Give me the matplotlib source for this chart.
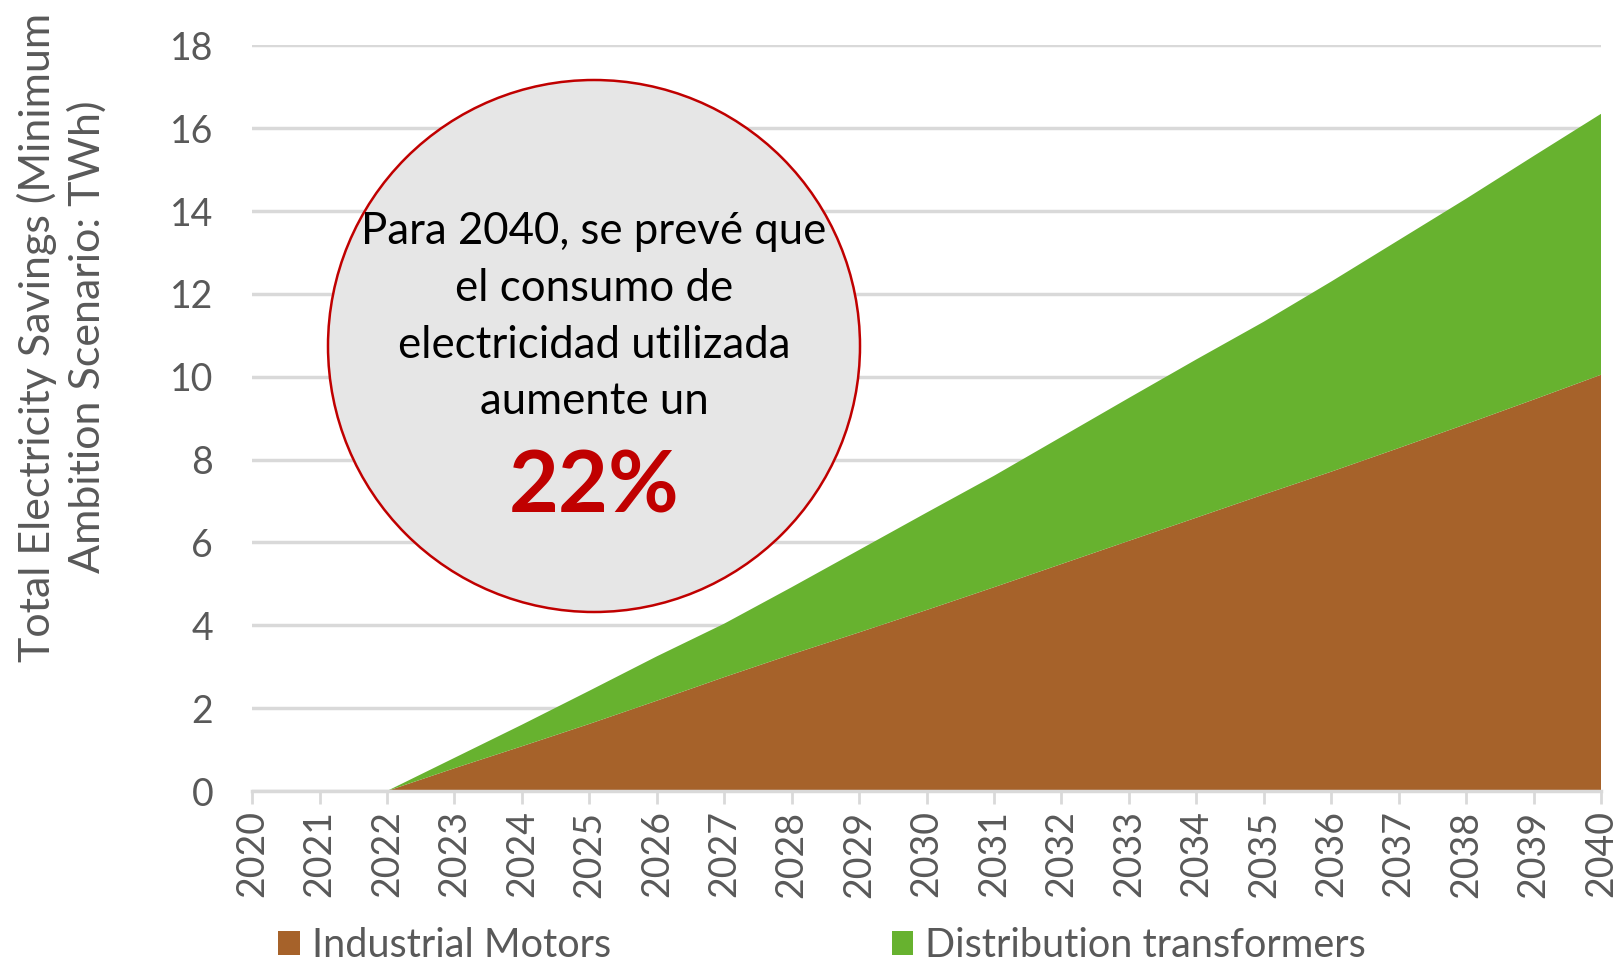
import numpy as np
import matplotlib
matplotlib.use("Agg")
import matplotlib.pyplot as plt
from matplotlib.patches import Circle, Patch

years = list(range(2020, 2041))
# (TWh)
industrial_motors = [0, 0, 0, 0.55, 1.08, 1.62, 2.18, 2.75, 3.30, 3.83, 4.37,
                     4.92, 5.48, 6.04, 6.60, 7.16, 7.71, 8.28, 8.86, 9.45, 10.05]
total_savings = [0, 0, 0, 0.80, 1.60, 2.42, 3.25, 4.04, 4.92, 5.82, 6.72,
                 7.61, 8.55, 9.49, 10.42, 11.33, 12.30, 13.30, 14.30, 15.33, 16.35]
distribution_transformers = [t - m for t, m in zip(total_savings, industrial_motors)]
series_names = ["Industrial Motors", "Distribution transformers"]
colors = ["#a6622a", "#67b22f"]

callout_lines = ["Para 2040, se prevé que", "el consumo de",
                 "electricidad utilizada", "aumente un"]
callout_value = "22%"

plt.rcParams['font.family'] = ['Lato', 'DejaVu Sans']
grey_text = "#595959"
grid_grey = "#d9d9d9"

fig = plt.figure(figsize=(16.21, 9.67), dpi=100)
ax = fig.add_axes([0.1555, 0.182, 0.8322, 0.771])

ax.stackplot(years, industrial_motors, distribution_transformers,
             colors=colors, linewidth=0, zorder=2)

ax.set_xlim(2020, 2040)
ax.set_ylim(0, 18)
ax.set_yticks(range(0, 19, 2))
ax.set_xticks(years)
ax.set_xticklabels([str(y) for y in years], rotation=90)
ax.yaxis.grid(True, color=grid_grey, linewidth=2.5, zorder=0)
ax.set_axisbelow(True)
for side in ["top", "right", "left"]:
    ax.spines[side].set_visible(False)
ax.spines["bottom"].set_color(grid_grey)
ax.spines["bottom"].set_linewidth(2.5)
ax.tick_params(axis="x", direction="out", length=9, width=2, color=grid_grey,
               labelsize=27, labelcolor=grey_text, pad=5)
ax.tick_params(axis="y", length=0, labelsize=27, labelcolor=grey_text, pad=28)

ax.set_ylabel("Total Electricity Savings (Minimum\nAmbition Scenario: TWh)",
              fontsize=31, color=grey_text, linespacing=1.3)
ax.yaxis.set_label_coords(-0.108, 0.609)

handles = [Patch(facecolor=c, edgecolor="none") for c in colors]
fig.legend(handles, series_names, loc="center left", ncol=2,
           bbox_to_anchor=(0.169, 0.022), frameon=False, fontsize=28.5,
           labelcolor=grey_text, handlelength=0.55, handleheight=0.55,
           handletextpad=0.3, columnspacing=7.1, borderaxespad=0,
           borderpad=0.1)

# callout circle, placed in inches from the lower-left corner
cx, cy, r = 5.94, 6.21, 2.66
fig.patches.append(Circle((cx, cy), r, transform=fig.dpi_scale_trans,
                          facecolor="#e6e6e6", edgecolor="#c00000",
                          linewidth=1.8, zorder=5))
for i, line in enumerate(callout_lines):
    fig.text(cx, cy + 1.15 - i * 0.57, line, transform=fig.dpi_scale_trans,
             ha="center", va="center", fontsize=31.5, color="black", zorder=6)
fig.text(cx, cy - 1.42, callout_value, transform=fig.dpi_scale_trans,
         ha="center", va="center", fontsize=62, fontweight="bold",
         color="#c00000", zorder=6)

fig.savefig("out.png", dpi=100)
